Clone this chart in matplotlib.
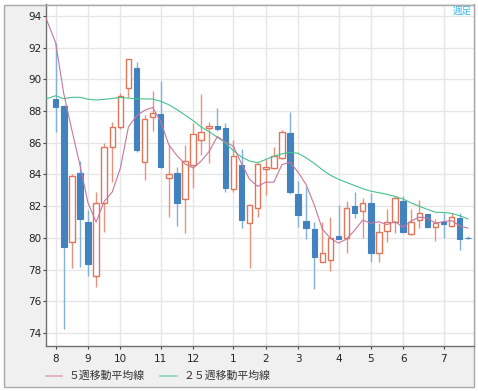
import matplotlib
matplotlib.use("Agg")
import matplotlib.pyplot as plt
from matplotlib.patches import Rectangle
from matplotlib.lines import Line2D

plt.rcParams['font.family'] = ['DejaVu Sans']

# ---- data ----
month_labels = ["8", "9", "10", "11", "12", "1", "2", "3", "4", "5", "6", "7"]
month_pos = [0, 4, 8, 13, 17, 22, 26, 30, 35, 39, 43, 48]

opens = [88.74, 88.30, 79.76, 84.11, 81.00, 77.60, 82.22, 85.76, 86.98, 89.44,
         90.72, 84.81, 87.60, 87.82, 83.76, 84.08, 82.45, 84.60, 86.18, 86.95,
         87.06, 86.91, 83.09, 84.60, 80.96, 81.90, 84.33, 84.40, 85.06, 86.64,
         82.77, 81.07, 80.56, 78.50, 78.60, 80.12, 79.97, 82.01, 81.70, 82.18,
         79.05, 80.43, 81.02, 82.33, 80.22, 81.13, 81.50, 80.71, 80.98, 80.75,
         81.28, 80.02]
highs = [92.28, 88.40, 84.00, 84.85, 81.76, 82.92, 85.97, 87.33, 89.12, 91.30,
         91.08, 87.75, 89.29, 89.92, 85.86, 84.45, 85.86, 87.23, 89.08, 87.30,
         88.18, 87.23, 86.18, 85.60, 82.15, 84.75, 84.96, 85.75, 86.81, 87.96,
         83.60, 83.23, 81.00, 81.02, 81.30, 82.07, 82.35, 82.88, 82.50, 82.85,
         80.95, 81.80, 82.64, 82.64, 81.80, 82.40, 81.52, 81.17, 81.55, 81.60,
         81.55, 80.10]
lows = [86.70, 74.25, 78.08, 78.19, 77.60, 76.92, 80.39, 83.55, 86.90, 88.87,
        85.45, 83.65, 86.76, 84.40, 81.30, 80.77, 80.30, 83.17, 85.23, 84.74,
        86.72, 82.92, 82.92, 80.60, 78.12, 81.35, 82.70, 84.35, 84.98, 82.80,
        80.70, 79.93, 76.76, 78.50, 77.90, 79.90, 79.07, 81.24, 79.97, 78.50,
        78.50, 79.76, 80.30, 80.30, 80.20, 80.60, 80.65, 79.80, 79.97, 80.70,
        79.24, 79.90]
closes = [88.24, 79.40, 83.90, 81.17, 78.35, 82.20, 85.76, 86.98, 88.95, 91.27,
          85.55, 87.50, 87.86, 84.45, 84.00, 82.18, 84.87, 86.56, 86.66, 87.05,
          86.85, 83.17, 85.19, 81.13, 82.10, 84.66, 84.50, 85.17, 86.66, 82.92,
          81.44, 80.60, 78.78, 79.07, 79.97, 79.93, 81.91, 81.59, 82.18, 79.03,
          80.37, 81.02, 82.54, 80.39, 81.02, 81.59, 80.71, 80.96, 80.86, 81.34,
          79.95, 79.98]

ma_x = list(range(-2, 52))
ma5 = [95.0, 93.6, 92.3, 89.1, 86.8, 84.6, 82.2, 81.0, 82.3, 82.9, 84.4, 87.0,
       87.7, 88.05, 88.23, 87.33, 85.87, 85.20, 84.67, 84.41, 84.85, 85.46,
       86.40, 86.06, 85.78, 84.68, 83.69, 83.25, 83.52, 83.51, 84.62, 84.78,
       84.14, 83.36, 82.08, 80.56, 79.97, 79.67, 79.93, 80.49, 81.12, 80.93,
       81.02, 80.84, 81.03, 80.67, 81.07, 81.31, 81.25, 80.93, 81.03, 81.09,
       80.76, 80.62]
ma25 = [88.7, 88.8, 88.97, 88.78, 88.87, 88.87, 88.75, 88.70, 88.74, 88.80,
        88.86, 88.82, 88.78, 88.77, 88.76, 88.62, 88.40, 88.10, 87.75, 87.40,
        87.00, 86.70, 86.35, 86.00, 85.50, 85.10, 84.85, 84.74, 84.95, 85.15,
        85.30, 85.40, 85.34, 85.05, 84.70, 84.30, 83.95, 83.70, 83.50, 83.30,
        83.10, 82.95, 82.85, 82.75, 82.62, 82.45, 82.20, 82.00, 81.80, 81.62,
        81.60, 81.55, 81.40, 81.20]

yticks = [74, 76, 78, 80, 82, 84, 86, 88, 90, 92, 94]
legend_labels = ["５週移動平均線", "２５週移動平均線"]
badge_text = "週足"

# ---- styles ----
UP_EDGE = "#e07558"
UP_WICK = "#e8917c"
DN_FACE = "#4283bf"
DN_WICK = "#80b2da"
MA5_C = "#c8759f"
MA25_C = "#45c28a"
GRID_C = "#e6e6e6"

W, H = 478, 391
fig = plt.figure(figsize=(W / 100, H / 100), dpi=100)
fig.patch.set_facecolor("white")

# outer frame
frame = Rectangle((3.5 / W, 1 - 386.5 / H), (474 - 3.5) / W, (386.5 - 4.5) / H,
                  transform=fig.transFigure, facecolor="#f0f0f0",
                  edgecolor="#a8a8a8", linewidth=1.0, zorder=-10)
fig.patches.append(frame)

left, right, top, bottom = 45.5, 473.5, 4.5, 346
ax = fig.add_axes([left / W, 1 - bottom / H, (right - left) / W, (bottom - top) / H])
ax.set_zorder(5)
ax.set_facecolor("white")

xs = list(range(len(opens)))
ax.set_xlim(-(55.7 - left) / 8.08, (right - 55.7) / 8.08)
ax.set_ylim(74 - (bottom - 333) / 15.85, 94 + (16 - top) / 15.85)

ax.set_yticks(yticks)
ax.set_yticklabels([str(v) for v in yticks])
ax.set_xticks(month_pos)
ax.set_xticklabels(month_labels)
ax.grid(True, color=GRID_C, linewidth=1.0, zorder=0)
ax.set_axisbelow(True)
ax.tick_params(axis="y", length=2, pad=1, labelsize=7.5, colors="#444444", labelcolor="#222222")
ax.tick_params(axis="x", length=2, pad=4, labelsize=7.5, colors="#444444", labelcolor="#222222")

for s in ["left", "bottom"]:
    ax.spines[s].set_color("#707070")
    ax.spines[s].set_linewidth(1.0)
for s in ["top", "right"]:
    ax.spines[s].set_color("#a8a8a8")
    ax.spines[s].set_linewidth(1.0)

# candles
up_x = [i for i in xs if closes[i] >= opens[i]]
dn_x = [i for i in xs if closes[i] < opens[i]]
ax.vlines(up_x, [lows[i] for i in up_x], [highs[i] for i in up_x], colors=UP_WICK, linewidth=1.0, zorder=2)
ax.vlines(dn_x, [lows[i] for i in dn_x], [highs[i] for i in dn_x], colors=DN_WICK, linewidth=1.0, zorder=2)
bw = 0.68
ax.bar(up_x, [max(closes[i] - opens[i], 0.03) for i in up_x], bottom=[opens[i] for i in up_x],
       width=bw, facecolor="white", edgecolor=UP_EDGE, linewidth=1.0, zorder=3)
ax.bar(dn_x, [max(opens[i] - closes[i], 0.03) for i in dn_x], bottom=[closes[i] for i in dn_x],
       width=bw, facecolor=DN_FACE, edgecolor=DN_FACE, linewidth=0.8, zorder=3)

# moving averages
ax.plot(ma_x, ma25, color=MA25_C, linewidth=0.8, zorder=4)
ax.plot(ma_x, ma5, color=MA5_C, linewidth=0.8, zorder=4)

# badge
fig.text(472 / W, 1 - 11 / H, badge_text, color="#33b5f0", fontsize=6.8,
         family=["Noto Sans CJK JP", "DejaVu Sans"], ha="right", va="center", zorder=10)

# legend (drawn manually to match placement)
ly = 1 - 376 / H
fig.add_artist(Line2D([46 / W, 62 / W], [ly, ly], transform=fig.transFigure, color="#e2a6c0", linewidth=1.2))
fig.text(69 / W, ly, legend_labels[0], fontsize=7.8, color="#333333",
         family=["Noto Sans CJK JP", "DejaVu Sans"], va="center", ha="left")
fig.add_artist(Line2D([160 / W, 177 / W], [ly, ly], transform=fig.transFigure, color="#86d9b6", linewidth=1.2))
fig.text(183 / W, ly, legend_labels[1], fontsize=7.8, color="#333333",
         family=["Noto Sans CJK JP", "DejaVu Sans"], va="center", ha="left")

fig.savefig("out.png", dpi=100)
